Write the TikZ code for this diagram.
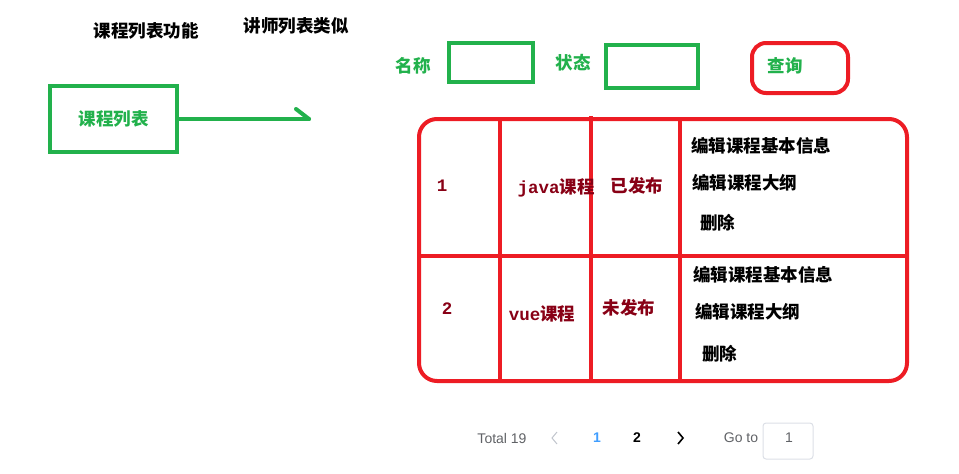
\documentclass[tikz,border=0pt]{standalone}
\usepackage{fontspec}
\setmainfont{Noto Sans CJK SC}
\newfontfamily\monofont{Liberation Mono}
\newfontfamily\pagefont{Liberation Sans}
\definecolor{paintgreen}{HTML}{22B14C}
\definecolor{paintred}{HTML}{ED1C24}
\definecolor{darkred}{HTML}{880015}
\definecolor{pageblue}{HTML}{409EFF}
\definecolor{pagegray}{HTML}{606266}
\definecolor{pagelight}{HTML}{C0C4CC}
\definecolor{pageborder}{HTML}{DCDFE6}
\begin{document}
\begin{tikzpicture}[x=1pt, y=-1pt,
	cn/.style = {font=\fontsize{17.5}{20}\selectfont\bfseries, inner sep=0pt},
	greenbox/.style = {draw=paintgreen, line width=4pt, inner sep=0pt},
	redline/.style = {draw=paintred, line width=4pt},
	pagetext/.style = {font=\pagefont\fontsize{14}{16}\selectfont, inner sep=0pt}]
	\useasboundingbox (0,0) rectangle (959,474);

	% titles
	\node[cn] (title) at (146,31) {课程列表功能};
	\node[cn] (teacher) at (296,26) {讲师列表类似};

	% course list entry
	\node[greenbox, minimum width=127pt, minimum height=66pt, text=paintgreen, font=\fontsize{17.5}{20}\selectfont\bfseries] (list) at (113.5,119) {课程列表};
	\coordinate (arrowend) at (309,119);
	\coordinate (arrowhook) at (296,109);
	\draw[paintgreen, line width=4pt, line cap=round] (list.east) -- (arrowend);
	\draw[paintgreen, line width=4pt, line cap=round] (arrowhook) -- (arrowend);

	% search bar
	\node[cn, text=paintgreen] (namelabel) at (413,66) {名称};
	\node[greenbox, minimum width=84pt, minimum height=39pt] (namebox) at (491,62.5) {};
	\node[cn, text=paintgreen] (statuslabel) at (573,63) {状态};
	\node[greenbox, minimum width=92pt, minimum height=43pt] (statusbox) at (652,66.5) {};
	\node[redline, rounded corners=14pt, minimum width=96pt, minimum height=50pt] (query) at (800,68) {};
	\node[cn, text=paintgreen] (querytext) at (785,66) {查询};

	% table
	\draw[redline, rounded corners=18pt] (419,119) rectangle (907,381);
	\foreach \x/\top in {500/119, 591/116, 680/119} {
		\draw[redline] (\x,\top) -- (\x,381);
	}
	\draw[redline] (419,256) -- (907,256);

	% row 1
	\node[cn, text=darkred] (id1) at (442,186) {\monofont 1};
	\node[cn, text=darkred] (name1) at (556,188) {{\monofont java}课程};
	\node[cn, text=darkred] (state1) at (637,186) {已发布};
	\node[cn, anchor=west] (info1) at (691,146) {编辑课程基本信息};
	\node[cn, anchor=west] (outline1) at (692,183) {编辑课程大纲};
	\node[cn, anchor=west] (delete1) at (700,223) {删除};

	% row 2
	\node[cn, text=darkred] (id2) at (447,309) {\monofont 2};
	\node[cn, text=darkred] (name2) at (542,314) {{\monofont vue}课程};
	\node[cn, text=darkred] (state2) at (629,308) {未发布};
	\node[cn, anchor=west] (info2) at (693,275) {编辑课程基本信息};
	\node[cn, anchor=west] (outline2) at (695,312) {编辑课程大纲};
	\node[cn, anchor=west] (delete2) at (702,354) {删除};

	% pagination
	\node[pagetext, text=pagegray] (total) at (502,438) {Total 19};
	\draw[pagelight, line width=1pt] (557,432) -- (552,438) -- (557,444);
	\node[pagetext, text=pageblue, font=\pagefont\fontsize{14}{16}\selectfont\bfseries] (page1) at (597,438) {1};
	\node[pagetext, font=\pagefont\fontsize{14}{16}\selectfont\bfseries] (page2) at (637,438) {2};
	\draw[black, line width=1.6pt] (678,432) -- (683,438) -- (678,444);
	\node[pagetext, text=pagegray] (goto) at (741,438) {Go to};
	\node[draw=pageborder, line width=1pt, rounded corners=3pt, minimum width=50pt, minimum height=36pt, pagetext, text=pagegray] (gobox) at (788,441) {};
	\node[pagetext, text=pagegray] (gonum) at (789,438) {1};
\end{tikzpicture}
\end{document}
